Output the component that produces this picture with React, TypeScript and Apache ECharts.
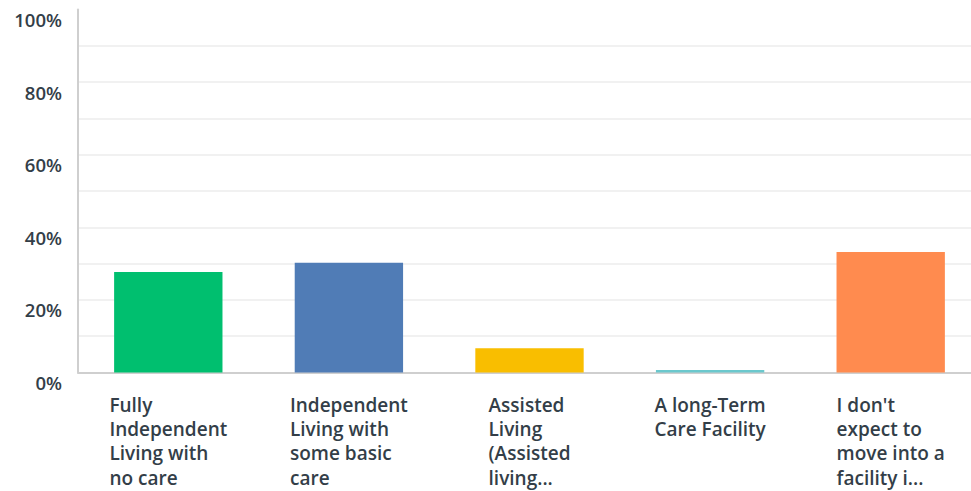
import React, { useEffect, useRef } from "react";
import * as echarts from "echarts";

const categories = [
  "Fully\nIndependent\nLiving with\nno care",
  "Independent\nLiving with\nsome basic\ncare",
  "Assisted\nLiving\n(Assisted\nliving...",
  "A long-Term\nCare Facility",
  "I don't\nexpect to\nmove into a\nfacility i...",
];
const values = [27.7, 30.2, 6.7, 0.7, 33.2];
const colors = ["#00bf6f", "#507cb6", "#f9be00", "#6bc8cd", "#ff8b4f"];
const yTicks = [0, 20, 40, 60, 80, 100];

export default function App() {
  const ref = useRef<HTMLDivElement>(null);
  useEffect(() => {
    document.body.style.margin = "0";
    const chart = echarts.init(ref.current!, null, { renderer: "svg" });
    chart.setOption({
      animation: false,
      grid: { left: 78, right: 0, top: 9.5, bottom: 118.5, containLabel: false },
      xAxis: {
        type: "category",
        data: categories,
        axisLine: { show: true, lineStyle: { color: "#cfcfcf", width: 2 } },
        axisTick: { show: false },
        splitLine: { show: false },
        axisLabel: {
          interval: 0,
          margin: 20,
          align: "center",
          verticalAlign: "top",
          formatter: (v: string) => v.split("\n").map((l) => `{a|${l}}`).join("\n"),
          rich: {
            a: {
              align: "left",
              fontFamily: "Open Sans",
              fontWeight: 600,
              fontSize: 19,
              lineHeight: 24.3,
              color: "#333e48",
            },
          },
        },
      },
      yAxis: {
        type: "value",
        min: 0,
        max: 100,
        interval: 10,
        axisLine: { show: true, lineStyle: { color: "#cfcfcf", width: 2 } },
        axisTick: { show: false },
        splitLine: {
          show: true,
          lineStyle: { color: "#ececec", width: 1.5 },
          showMaxLine: false,
        },
        axisLabel: {
          margin: 16,
          verticalAlign: "top",
          lineHeight: 20,
          fontFamily: "Open Sans",
          fontWeight: 600,
          fontSize: 18.5,
          color: "#333e48",
          formatter: (v: number) => (yTicks.includes(v) ? `${v}%` : ""),
        },
      },
      series: [
        {
          type: "bar",
          barWidth: "60%",
          data: values.map((v, i) => ({ value: v, itemStyle: { color: colors[i] } })),
        },
      ],
    });
    return () => chart.dispose();
  }, []);
  return (
    <div style={{ width: 971, height: 491, overflow: "hidden" }}>
      <div ref={ref} style={{ width: 981, height: 491 }} />
    </div>
  );
}
